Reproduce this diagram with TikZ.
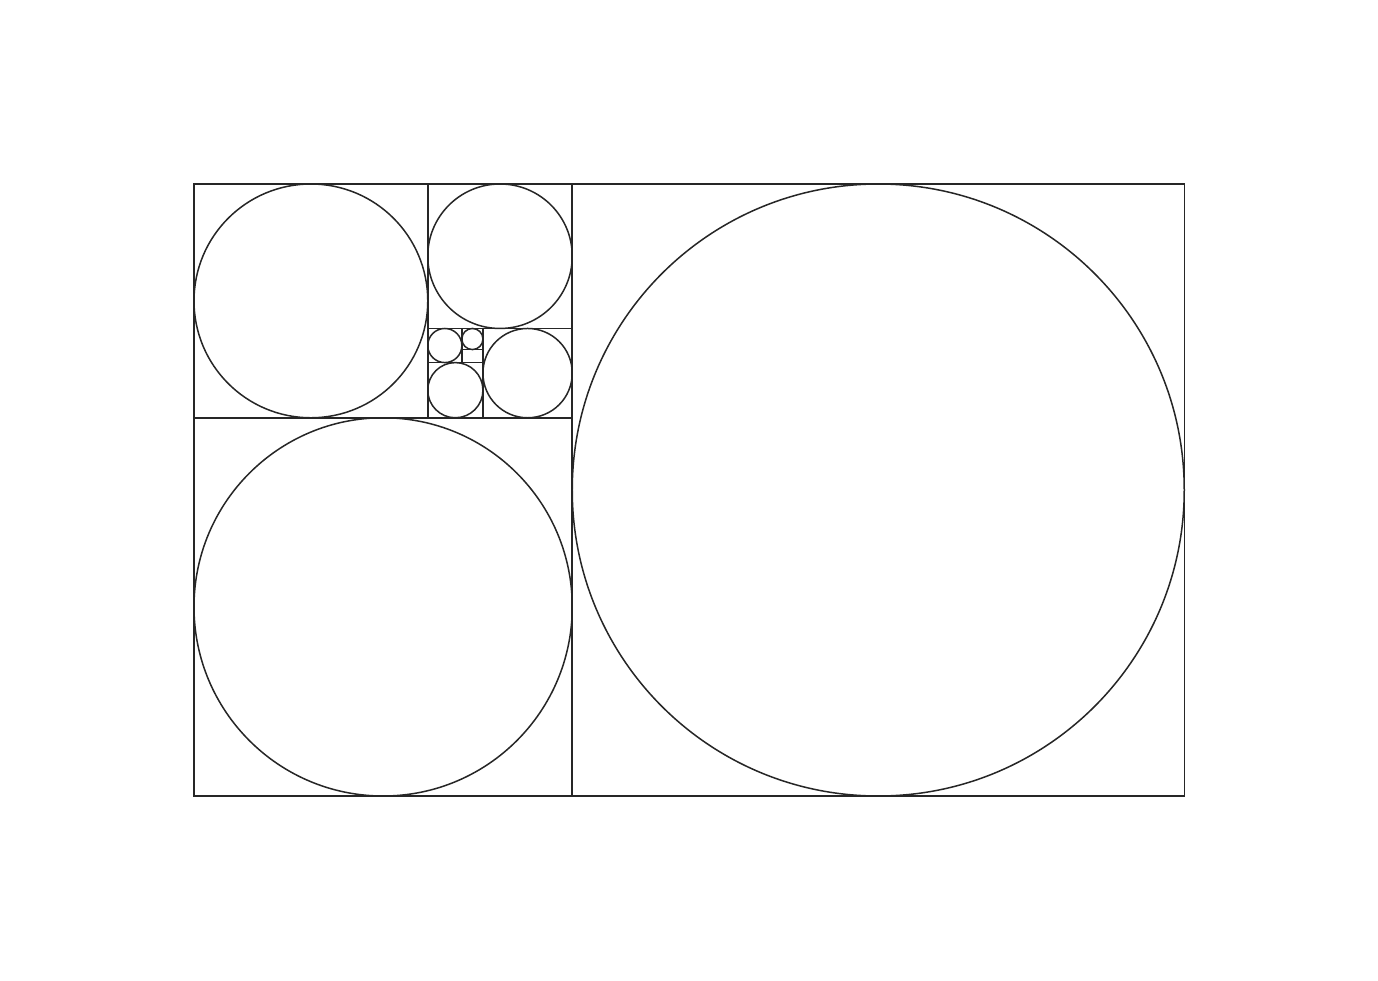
\documentclass[tikz,border=0pt]{standalone}
\begin{document}
\begin{tikzpicture}[x=1pt,y=-1pt,line width=1.5pt,
  sq/.style={draw=black!85},
  circ/.style={draw=black!85}]
\useasboundingbox[fill=white] (0,0) rectangle (1378,980);
% squares (x, y, size)
\foreach \x/\y/\s in {572.24/184/612, 194/417.76/378.24, 194/184/233.76,
  427.76/184/144.47, 482.95/328.47/89.29, 427.76/362.58/55.18,
  427.76/328.47/34.10, 461.87/328.47/21.08}{
  \draw[sq] (\x,\y) rectangle ++(\s,\s);
  \draw[circ] (\x+\s/2,\y+\s/2) circle[radius=\s/2];
}
\draw[sq] (461.87,349.55) rectangle (482.95,362.58);
\draw[sq] (194,184) rectangle (1184.24,796);
\end{tikzpicture}
\end{document}
